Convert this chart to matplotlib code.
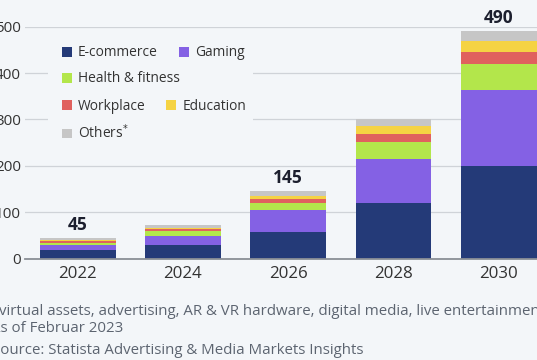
import numpy as np
import matplotlib.pyplot as plt
from matplotlib.patches import Rectangle

plt.rcParams['font.family'] = ['Open Sans', 'DejaVu Sans']

# Data (billion U.S. dollars)
years = ["2022", "2024", "2026", "2028", "2030"]
ecommerce = [18, 28.5, 57, 119, 200]
gaming = [11, 20, 47, 95, 163]
health = [5.5, 10.5, 16, 37, 56]
workplace = [2.8, 4.5, 8.5, 17, 26]
education = [2.9, 3.5, 7, 17, 25]
others = [4.8, 6.5, 9.5, 15, 20]
totals_shown = {0: "45", 2: "145", 4: "490"}

series = [
    ("E-commerce", ecommerce, "#243a78"),
    ("Gaming", gaming, "#8461e4"),
    ("Health & fitness", health, "#b3e64b"),
    ("Workplace", workplace, "#e0615e"),
    ("Education", education, "#f5d343"),
    ("Others$^{*}$", others, "#c6c6c6"),
]

bg = "#f3f6f9"
W, H = 537, 360

fig = plt.figure(figsize=(W / 100, H / 100), dpi=100, facecolor=bg)


def fx(px):
    return px / W


def fy(py):
    return 1 - py / H


# axes placed in pixel terms (left part of the chart is cut off like the reference)
ax_left, ax_right = 25, 551.5
ax_top, ax_bottom = 26.7, 258.6
ax = fig.add_axes([fx(ax_left), fy(ax_bottom), (ax_right - ax_left) / W, (ax_bottom - ax_top) / H])
ax.set_facecolor(bg)

x = np.arange(len(years))
bottom = np.zeros(len(years))
bars = []
for name, vals, col in series:
    b = ax.bar(x, vals, width=0.72, bottom=bottom, color=col, label=name, zorder=2)
    bars.append(b)
    bottom = bottom + np.array(vals)

for i, txt in totals_shown.items():
    ax.annotate(txt, (x[i], bottom[i]), xytext=(0, 3), textcoords="offset points",
                ha="center", va="bottom", fontsize=12.5, fontweight="bold", color="#1c1f2e")

ax.set_xlim(-0.5, 4.5)
ax.set_ylim(0, 500)
ax.set_xticks(x)
ax.set_xticklabels(years)
ax.set_yticks(np.arange(0, 501, 100))
ax.tick_params(axis="y", length=0, pad=3, labelsize=11, labelcolor="#333333")
ax.tick_params(axis="x", length=0, pad=5.5, labelsize=12.2, labelcolor="#333333")
ax.yaxis.grid(True, color="#cfd3d8", lw=0.9)
ax.set_axisbelow(True)
for s in ["left", "right", "top"]:
    ax.spines[s].set_visible(False)
ax.spines["bottom"].set_color("#8a8f96")
ax.spines["bottom"].set_linewidth(1.3)
ax.spines["bottom"].set_zorder(3)

# background block behind the legend hides the gridlines
fig.patches.append(Rectangle((fx(48), fy(146)), (253 - 48) / W, 106 / H,
                             transform=fig.transFigure, facecolor=bg, edgecolor="none", zorder=1))

# flowing legend: one legend per row
rows = [([0, 1], 53), ([2], 79), ([3, 4], 106), ([5], 133)]
for idx, ypx in rows:
    leg = fig.legend([bars[i] for i in idx], [series[i][0] for i in idx],
                     loc="center left", bbox_to_anchor=(fx(62), fy(ypx)),
                     ncol=len(idx), frameon=False, fontsize=9.9,
                     handlelength=0.73, handleheight=0.73, handletextpad=0.44,
                     columnspacing=1.5, borderpad=0, borderaxespad=0)
    for t in leg.get_texts():
        t.set_color("#333333")

# footnotes (cut off on the left like the reference)
note_col = "#5c6470"
fig.text(fx(-1), fy(315), "virtual assets, advertising, AR & VR hardware, digital media, live entertainment, ...",
         fontsize=10.8, color=note_col, ha="left", va="baseline")
fig.text(fx(-9), fy(331.7), "As of Februar 2023", fontsize=10.8, color=note_col, ha="left", va="baseline")
fig.text(fx(-8.5), fy(354), "Source: Statista Advertising & Media Markets Insights",
         fontsize=10.8, color=note_col, ha="left", va="baseline")

fig.savefig("out.png", dpi=100, facecolor=bg)
